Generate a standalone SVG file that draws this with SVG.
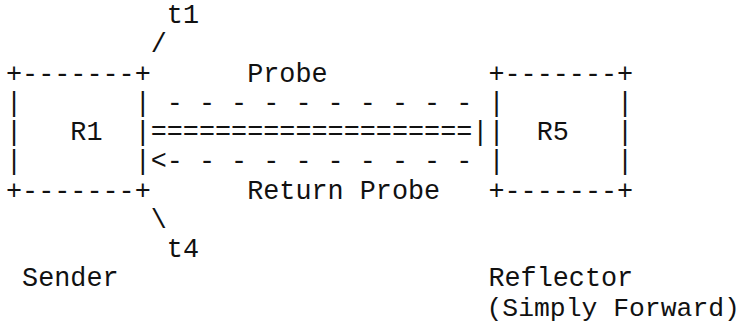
<svg xmlns="http://www.w3.org/2000/svg" width="743" height="322" viewBox="0 0 743 322">
  <style>
    text { font-family: "Liberation Mono", "Courier New", monospace; font-size: 26.8px; fill: #111; white-space: pre; }
    .tight { font-size: 26.4px; }
  </style>
  <rect width="743" height="322" fill="#fff"/>
  <!-- monospace grid: column c at x = 6 + c*16.08, row r baseline at y = 23 + r*29.25 -->
  <g id="r1" xml:space="preserve">
    <text x="6" y="81.5">+-------+</text>
    <text x="6" y="110.75">|       |</text>
    <text x="6" y="140">|   R1  |</text>
    <text x="6" y="169.25">|       |</text>
    <text x="6" y="198.5">+-------+</text>
  </g>
  <g id="r5" xml:space="preserve">
    <text x="488.4" y="81.5">+-------+</text>
    <text x="488.4" y="110.75">|       |</text>
    <text x="488.4" y="140">|  R5   |</text>
    <text x="488.4" y="169.25">|       |</text>
    <text x="488.4" y="198.5">+-------+</text>
  </g>
  <g id="connectors" xml:space="preserve">
    <text x="166.8" y="110.75">- - - - - - - - - -</text>
    <text x="150.7" y="140">====================|</text>
    <text x="150.7" y="169.25">&lt;- - - - - - - - - -</text>
    <text x="150.7" y="52.25">/</text>
    <text x="150.7" y="227.75">\</text>
  </g>
  <g id="labels" xml:space="preserve">
    <text x="166.8" y="23">t1</text>
    <text x="247.2" y="81.5">Probe</text>
    <text x="247.2" y="198.5">Return Probe</text>
    <text x="166.8" y="257">t4</text>
    <text x="22.1" y="286.25">Sender</text>
    <text x="488.4" y="286.25">Reflector</text>
    <text class="tight" x="486.5" y="315.5">(Simply Forward)</text>
  </g>
</svg>
